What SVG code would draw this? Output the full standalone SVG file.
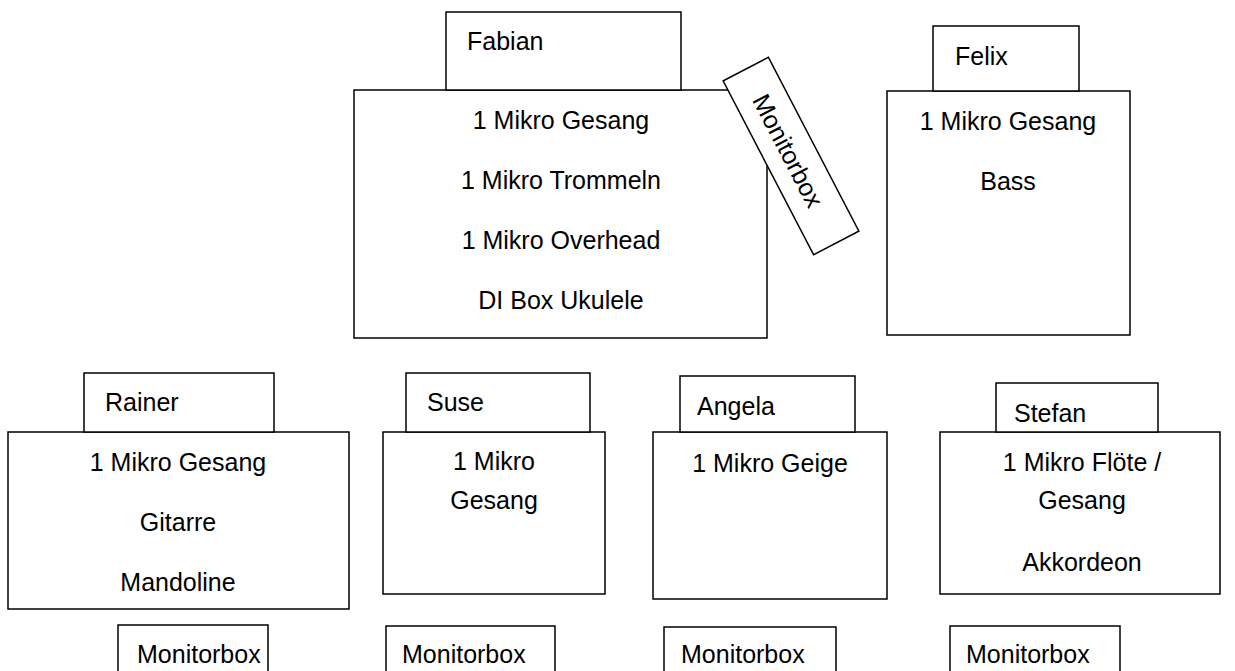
<svg xmlns="http://www.w3.org/2000/svg" width="1235" height="671" viewBox="0 0 1235 671">
<style>
rect.b{fill:#fff;stroke:#000;stroke-width:1.5}
text{font-family:"Liberation Sans","Lato",Arial,sans-serif;font-size:25px;fill:#000}
text.c{text-anchor:middle}
</style>
<rect width="1235" height="671" fill="#fff"/>
<g id="connectors"/>
<g id="fabian">
<rect class="b" x="354" y="90" width="413" height="248"/>
<rect class="b" x="446" y="12" width="235" height="78"/>
<text x="467" y="50">Fabian</text>
<text class="c" x="561" y="129">1 Mikro Gesang</text>
<text class="c" x="561" y="189">1 Mikro Trommeln</text>
<text class="c" x="561" y="249">1 Mikro Overhead</text>
<text class="c" x="561" y="309">DI Box Ukulele</text>
</g>
<g id="fabian-monitor" transform="translate(791,156) rotate(62.5)">
<rect class="b" x="-98" y="-25.5" width="196" height="51"/>
<text class="c" x="-6" y="9">Monitorbox</text>
</g>
<g id="felix">
<rect class="b" x="887" y="91" width="243" height="244"/>
<rect class="b" x="933" y="26" width="146" height="65"/>
<text x="955" y="65">Felix</text>
<text class="c" x="1008" y="130">1 Mikro Gesang</text>
<text class="c" x="1008" y="190">Bass</text>
</g>
<g id="rainer">
<rect class="b" x="8" y="432" width="341" height="177"/>
<rect class="b" x="84" y="373" width="190" height="59"/>
<text x="105" y="411">Rainer</text>
<text class="c" x="178" y="471">1 Mikro Gesang</text>
<text class="c" x="178" y="531">Gitarre</text>
<text class="c" x="178" y="591">Mandoline</text>
</g>
<g id="suse">
<rect class="b" x="383" y="432" width="222" height="162"/>
<rect class="b" x="406" y="373" width="184" height="59"/>
<text x="427" y="411">Suse</text>
<text class="c" x="494" y="470">1 Mikro</text>
<text class="c" x="494" y="509">Gesang</text>
</g>
<g id="angela">
<rect class="b" x="653" y="432" width="234" height="167"/>
<rect class="b" x="680" y="376" width="175" height="56"/>
<text x="697" y="415">Angela</text>
<text class="c" x="770" y="472">1 Mikro Geige</text>
</g>
<g id="stefan">
<rect class="b" x="940" y="432" width="280" height="162"/>
<rect class="b" x="996" y="383" width="162" height="49"/>
<text x="1014" y="422">Stefan</text>
<text class="c" x="1082" y="471">1 Mikro Flöte /</text>
<text class="c" x="1082" y="509">Gesang</text>
<text class="c" x="1082" y="571">Akkordeon</text>
</g>
<g id="monitor-rainer">
<rect class="b" x="118" y="625" width="150" height="60"/>
<text x="137" y="663">Monitorbox</text>
</g>
<g id="monitor-suse">
<rect class="b" x="386" y="626" width="169" height="60"/>
<text x="402" y="663">Monitorbox</text>
</g>
<g id="monitor-angela">
<rect class="b" x="664" y="627" width="172" height="60"/>
<text x="681" y="663">Monitorbox</text>
</g>
<g id="monitor-stefan">
<rect class="b" x="950" y="626" width="170" height="60"/>
<text x="966" y="663">Monitorbox</text>
</g>
</svg>
